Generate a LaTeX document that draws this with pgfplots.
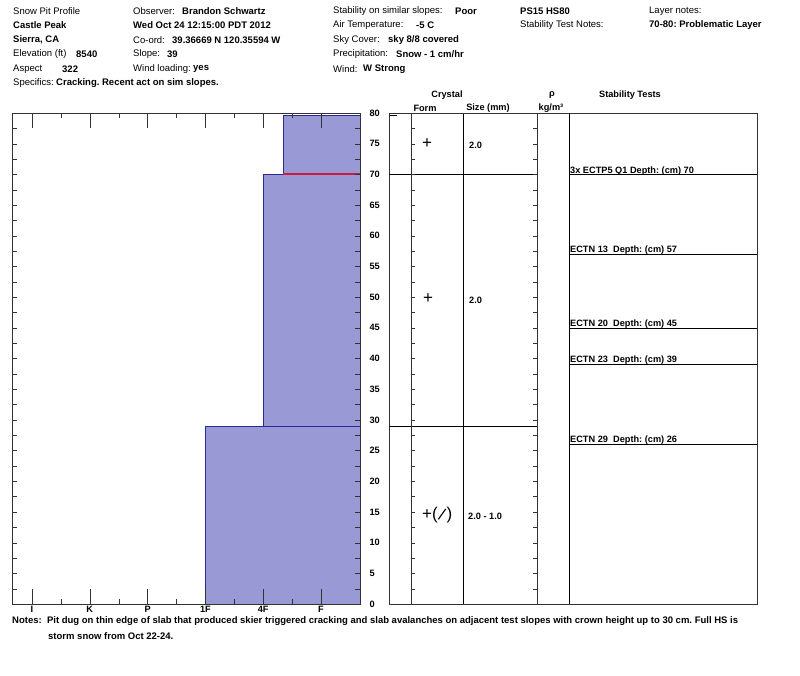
\documentclass[border=0pt]{standalone}
\usepackage{pgfplots}
\pgfplotsset{compat=1.18}
\usepackage{fontspec}
\setmainfont{Liberation Sans}
\definecolor{hfill}{RGB}{153,153,214}
\definecolor{hline}{RGB}{40,40,150}
\definecolor{wl}{RGB}{200,30,60}
\newcommand\hd{\fontsize{9.5}{11}\selectfont}
\newcommand\sm{\fontsize{9.2}{10}\selectfont\bfseries}
\frenchspacing
\begin{document}
\begin{tikzpicture}
\useasboundingbox (0,0) rectangle (800pt,-676pt);
\pgfplotsset{frame/.style={at={(#1)}, anchor=south west, scale only axis,
  height=491pt, ymin=0, ymax=80, axis line style={black!80},
  tick style={black!80}, tick align=inside,
  ticklabel style={font=\sm}, /pgf/number format/assume math mode=true}}

% hand hardness profile
\begin{axis}[frame={12pt,-604pt}, width=348pt, xmin=-0.346, xmax=5.675,
  axis on top, xtick=\empty,
  ytick={0,5,...,80}, minor ytick={2.5,7.5,...,77.5},
  ytick pos=both, yticklabel pos=right, major tick length=5pt, minor tick length=5pt,
  yticklabel style={xshift=6pt}]
  \addplot[fill=hfill, draw=hline] coordinates {(3,0) (5.675,0) (5.675,29) (3,29)} -- cycle;
  \addplot[fill=hfill, draw=hline] coordinates {(4,29) (5.675,29) (5.675,70) (4,70)} -- cycle;
  \addplot[fill=hfill, draw=hline] coordinates {(4.34,70) (5.675,70) (5.675,79.7) (4.34,79.7)} -- cycle;
  \addplot[wl, line width=2pt] coordinates {(4.34,70) (5.675,70)};
\end{axis}
\begin{axis}[frame={12pt,-604pt}, width=348pt, xmin=-0.346, xmax=5.675,
  ytick=\empty, xtick={0,...,5}, xticklabels={I,K,P,1F,4F,F},
  minor xtick={0.5,1.5,...,4.5}, xtick pos=both, xticklabel pos=lower,
  major tick length=15pt, minor tick length=5pt,
  xticklabel style={font=\sm, inner sep=0pt, yshift=-2pt}]
\end{axis}

% crystal / density / stability table
\begin{axis}[frame={389pt,-604pt}, width=368pt, xmin=389, xmax=757,
  xtick=\empty, ytick=\empty]
  \addplot[black] coordinates {(463,0) (463,80)};
  \addplot[black] coordinates {(569,0) (569,80)};
  \addplot[black] coordinates {(389,70) (537,70)};
  \addplot[black] coordinates {(389,29) (537,29)};
  \addplot[black] coordinates {(569,70) (757,70)};
  \addplot[black] coordinates {(569,57) (757,57)};
  \addplot[black] coordinates {(569,45) (757,45)};
  \addplot[black] coordinates {(569,39) (757,39)};
  \addplot[black] coordinates {(569,26) (757,26)};
  \addplot[black] coordinates {(390,79.6) (397,79.6)};
\end{axis}
\begin{axis}[frame={411pt,-604pt}, width=126pt, xmin=0, xmax=1,
  xtick=\empty, ytick={0,2.5,...,80}, yticklabels=\empty,
  ytick pos=both, major tick length=4pt]
\end{axis}

\begin{scope}[x=1pt, y=-1pt, every node/.style={inner sep=0pt, anchor=west, font=\hd}]
  \node at (13,11) {Snow Pit Profile};
  \node at (13,25) {\bfseries Castle Peak};
  \node at (13,40) {\bfseries Sierra, CA};
  \node at (13,54) {Elevation (ft)};  \node at (76,54) {\bfseries 8540};
  \node at (13,69) {Aspect};          \node at (62,69) {\bfseries 322};
  \node at (13,83) {Specifics:};      \node at (56,83) {\bfseries Cracking. Recent act on sim slopes.};

  \node at (133,11) {Observer:};      \node at (182,11) {\bfseries Brandon Schwartz};
  \node at (133,25) {\bfseries Wed Oct 24 12:15:00 PDT 2012};
  \node at (133,40) {Co-ord:};        \node at (172,40) {\bfseries 39.36669 N 120.35594 W};
  \node at (133,54) {Slope:};         \node at (167,54) {\bfseries 39};
  \node at (133,69) {Wind loading:};  \node at (193,69) {\bfseries yes};

  \node at (333,11) {Stability on similar slopes:}; \node at (455,11) {\bfseries Poor};
  \node at (333,25) {Air Temperature:}; \node at (416,25) {\bfseries -5 C};
  \node at (333,40) {Sky Cover:};       \node at (388,40) {\bfseries sky 8/8 covered};
  \node at (333,54) {Precipitation:};   \node at (396,54) {\bfseries Snow - 1 cm/hr};
  \node at (333,69) {Wind:};            \node at (363,69) {\bfseries W Strong};

  \node at (520,11) {\bfseries PS15 HS80};
  \node at (520,25) {Stability Test Notes:};
  \node at (649,11) {Layer notes:};
  \node at (649,25) {\bfseries 70-80: Problematic Layer};

  \begin{scope}[every node/.style={inner sep=0pt, anchor=center, font=\sm}]
    \node at (447,95) {Crystal};
    \node at (425,108) {Form};
    \node at (488,108) {Size (mm)};
    \node at (552,95) {ρ};
    \node at (551,108) {kg/m³};
    \node at (630,95) {Stability Tests};
  \end{scope}

  \node[font=\fontsize{17}{17}\selectfont] at (422,144) {+};
  \node[font=\fontsize{17}{17}\selectfont] at (423,299) {+};
  \node[font=\fontsize{17}{17}\selectfont] at (422,515) {+(\rotatebox{-20}{/})};
  \node[font=\sm] at (469,145) {2.0};
  \node[font=\sm] at (469,300) {2.0};
  \node[font=\sm] at (468,516) {2.0 - 1.0};

  \node[font=\sm] at (570,171) {3x ECTP5 Q1 Depth: (cm) 70};
  \node[font=\sm] at (570,250) {ECTN 13\ \ Depth: (cm) 57};
  \node[font=\sm] at (570,324) {ECTN 20\ \ Depth: (cm) 45};
  \node[font=\sm] at (570,360) {ECTN 23\ \ Depth: (cm) 39};
  \node[font=\sm] at (570,440) {ECTN 29\ \ Depth: (cm) 26};

  \node[font=\hd\bfseries] at (12,621) {Notes:\ \ Pit dug on thin edge of slab that produced skier triggered cracking and slab avalanches on adjacent test slopes with crown height up to 30 cm. Full HS is};
  \node[font=\hd\bfseries] at (48,636) {storm snow from Oct 22-24.};
\end{scope}
\end{tikzpicture}
\end{document}
